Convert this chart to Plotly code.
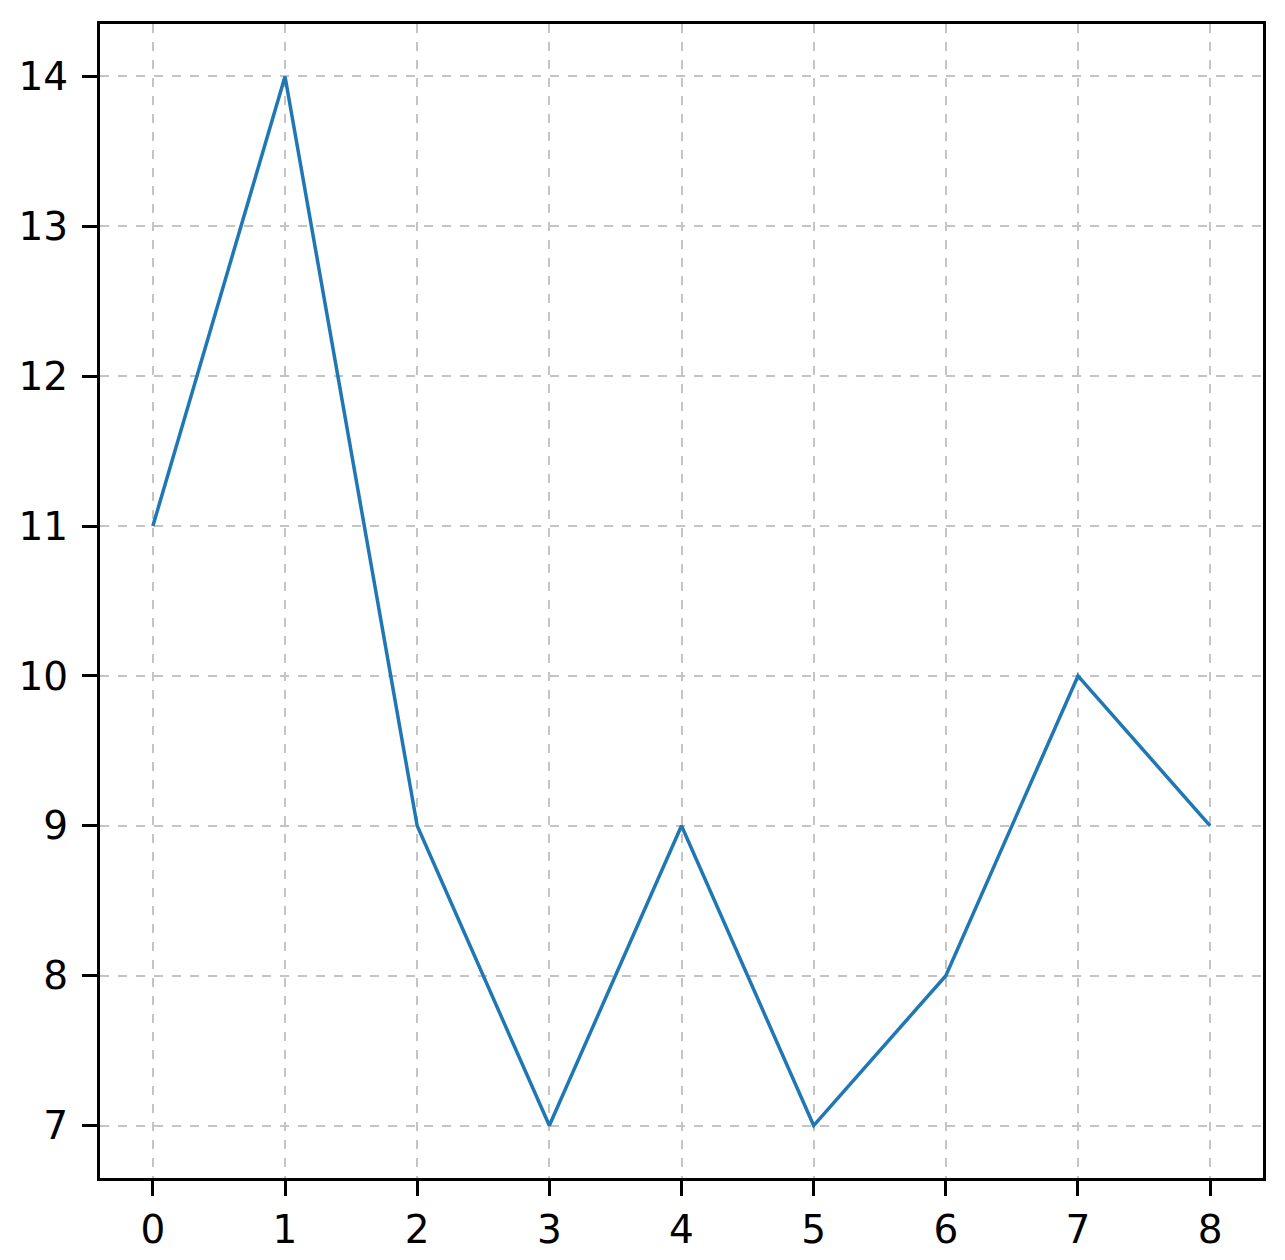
import plotly.graph_objects as go

x_vals = [0, 1, 2, 3, 4, 5, 6, 7, 8]
y_vals = [11, 14, 9, 7, 9, 7, 8, 10, 9]

x_ticks = [0, 1, 2, 3, 4, 5, 6, 7, 8]
y_ticks = [7, 8, 9, 10, 11, 12, 13, 14]

fig = go.Figure()

fig.add_trace(go.Scatter(
    x=x_vals,
    y=y_vals,
    mode='lines',
    line=dict(color='#1f77b4', width=3.5),
    showlegend=False
))

axis_style = dict(
    showline=True,
    linecolor='black',
    linewidth=3,
    mirror=True,
    ticks='outside',
    ticklen=15,
    tickwidth=3,
    tickcolor='black',
    showgrid=True,
    gridcolor='#c4c4c4',
    gridwidth=2,
    griddash='dash',
    zeroline=False,
    tickfont=dict(family='DejaVu Sans', size=39, color='black'),
)

fig.update_xaxes(range=[-0.4, 8.4], tickvals=x_ticks, ticklabelstandoff=0, **axis_style)
fig.update_yaxes(range=[6.65, 14.35], tickvals=y_ticks, ticklabelstandoff=6, **axis_style)

fig.update_layout(
    width=1285,
    height=1260,
    margin=dict(l=92, r=30, t=16, b=90),
    plot_bgcolor='white',
    paper_bgcolor='white',
    font=dict(family='DejaVu Sans'),
)

fig.write_html("out.html")
